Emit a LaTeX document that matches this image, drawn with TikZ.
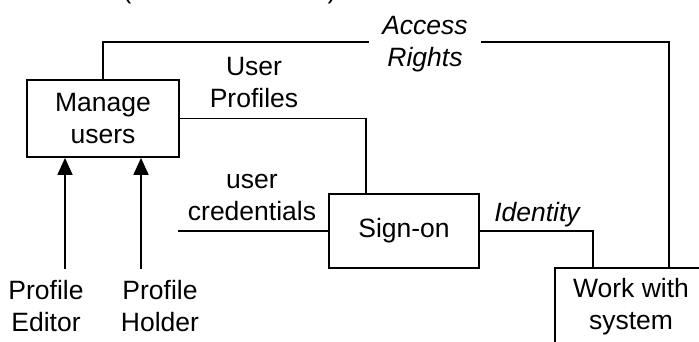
\documentclass[tikz,border=0pt]{standalone}
\usepackage{fontspec}
\setmainfont{Liberation Sans}
\usetikzlibrary{arrows.meta}

\begin{document}
\begin{tikzpicture}[x=1pt,y=-1pt,
  every node/.style={font=\fontsize{26.5}{32}\selectfont, align=center},
  procbox/.style={draw, line width=1.8pt, inner sep=0pt},
  flow/.style={line width=1.8pt},
  inflow/.style={flow, -{Triangle[length=17pt,width=15pt]}},
  flowlabel/.style={inner sep=0pt},
  datalabel/.style={inner sep=0pt, font=\fontsize{26.5}{32}\selectfont\itshape}]

\useasboundingbox (0,0) rectangle (699,341);

% processes
\node[procbox, minimum width=152pt, minimum height=77pt] (mu) at (103,118.5) {Manage\\users};
\node[procbox, minimum width=150pt, minimum height=74pt] (so) at (404,231) {Sign-on};
\node[procbox, minimum width=152pt, minimum height=77pt] (wk) at (631,306.5) {Work with\\system};

% heading brackets, mostly above the page
\node[anchor=base, inner sep=0pt] (lp) at (127,-2) {(};
\node[anchor=base, inner sep=0pt] (rp) at (332,-2) {)};

% bend points of the flows
\coordinate (artop) at (669,42);
\coordinate (upc) at (366,118.5);
\coordinate (ucin) at (178,231);
\coordinate (idc) at (593,231);
\coordinate (pe) at (65,269);
\coordinate (ph) at (141,269);

% access rights: from Manage users over the top to Work with system
\draw[flow] (mu.north) |- (artop) -- (artop |- wk.north);
\node[datalabel, fill=white, inner xsep=13pt] (arl) at (425,44) {Access\\Rights};

% user profiles: Manage users to Sign-on
\draw[flow] (mu.east) -- (upc) -- (upc |- so.north);
\node[flowlabel] (upl) at (254,83) {User\\Profiles};

% user credentials into Sign-on
\draw[flow] (ucin) -- (so.west);
\node[flowlabel] (ucl) at (252,197) {user\\credentials};

% identity: Sign-on to Work with system
\draw[flow] (so.east) -- (idc) -- (idc |- wk.north);
\node[datalabel, anchor=base] (idl) at (537,221) {Identity};

% actors feeding Manage users
\draw[inflow] (pe) -- (pe |- mu.south);
\draw[inflow] (ph) -- (ph |- mu.south);
\node[flowlabel] (pel) at (46,306.5) {Profile\\Editor};
\node[flowlabel] (phl) at (160,306.5) {Profile\\Holder};

\end{tikzpicture}
\end{document}
